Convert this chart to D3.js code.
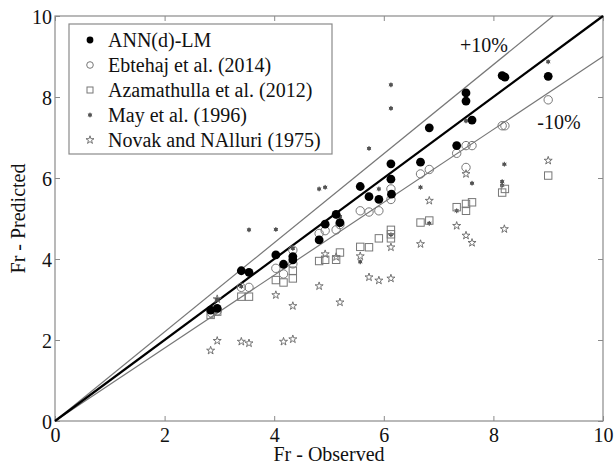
<!DOCTYPE html>
<html><head><meta charset="utf-8">
<script src="https://cdn.jsdelivr.net/npm/d3@7"></script>
<style>body{margin:0;background:#fff}svg{display:block}</style>
</head><body><svg id="c" width="614" height="466"></svg>
<script>
const seriesNames = ["ANN(d)-LM","Ebtehaj et al. (2014)","Azamathulla et al. (2012)","May et al. (1996)","Novak and NAlluri (1975)"];
const ticks = [0,2,4,6,8,10];
const annLM = [[2.84,2.74],[2.96,2.78],[3.4,3.71],[3.54,3.67],[4.03,4.10],[4.17,3.87],[4.34,4.06],[4.34,3.98],[4.82,4.47],[4.93,4.86],[5.13,5.10],[5.2,4.9],[5.57,5.79],[5.73,5.54],[5.91,5.47],[6.13,5.97],[6.13,6.35],[6.14,5.6],[6.67,6.39],[6.83,7.24],[7.33,6.8],[7.5,8.1],[7.5,7.9],[7.61,7.43],[8.16,8.53],[8.21,8.49],[9.0,8.51]];
const ebtehaj = [[2.86,2.66],[2.96,2.72],[3.4,3.3],[3.54,3.3],[4.03,3.77],[4.17,3.63],[4.34,4.22],[4.34,3.88],[4.82,4.63],[4.93,4.7],[5.13,4.72],[5.2,4.85],[5.57,5.19],[5.73,5.16],[5.91,5.19],[6.13,5.73],[6.13,5.47],[6.67,6.1],[6.83,6.21],[7.33,6.61],[7.5,6.8],[7.5,6.26],[7.61,6.8],[8.16,7.29],[8.21,7.29],[9.0,7.93]];
const azamathulla = [[2.84,2.62],[2.96,2.7],[3.4,3.07],[3.54,3.07],[4.03,3.48],[4.17,3.42],[4.34,3.71],[4.34,3.52],[4.82,3.95],[4.93,3.98],[5.13,3.98],[5.2,4.16],[5.57,4.3],[5.73,4.29],[5.91,4.51],[6.13,4.72],[6.13,4.61],[6.13,4.51],[6.67,4.9],[6.83,4.95],[7.33,5.28],[7.5,5.19],[7.5,5.36],[7.61,5.4],[8.16,5.64],[8.21,5.73],[9.0,6.06]];
const may = [[2.96,3.0],[3.4,3.32],[3.54,4.72],[4.03,4.73],[4.34,4.26],[4.82,5.73],[4.93,5.77],[5.13,5.05],[5.2,5.05],[5.57,3.93],[5.73,6.73],[5.91,5.73],[6.13,8.3],[6.13,7.72],[6.13,4.6],[6.67,5.77],[6.83,4.88],[7.33,5.19],[7.5,7.41],[7.61,5.87],[8.16,5.91],[8.16,5.82],[8.2,6.34],[9.0,8.87]];
const novak = [[2.84,1.74],[2.96,1.98],[2.96,3.01],[3.4,1.96],[3.54,1.92],[4.03,3.11],[4.17,1.96],[4.34,2.84],[4.34,2.02],[4.82,3.33],[4.93,4.12],[5.13,4.05],[5.2,2.93],[5.57,4.07],[5.73,3.55],[5.91,3.47],[6.13,4.29],[6.13,3.52],[6.67,4.37],[6.83,5.44],[7.33,4.82],[7.5,6.1],[7.5,4.58],[7.61,4.4],[8.2,4.74],[9.0,6.43]];

const FONT = "'Liberation Serif','Times New Roman',serif";
const FS = "20px";
const svg = d3.select("#c");
const L=55, R=603, T=16, B=421;
const x = d3.scaleLinear().domain([0,10]).range([L,R]);
const y = d3.scaleLinear().domain([0,10]).range([B,T]);
const frameCol = "#8a8a8a";

svg.append("rect").attr("x",L).attr("y",T).attr("width",R-L).attr("height",B-T)
  .attr("fill","none").attr("stroke",frameCol).attr("stroke-width",1.2);

const ax = svg.append("g").attr("transform",`translate(0,${B})`)
  .call(d3.axisBottom(x).tickValues(ticks).tickSizeInner(-5).tickSizeOuter(0).tickPadding(7));
const ay = svg.append("g").attr("transform",`translate(${L},0)`)
  .call(d3.axisLeft(y).tickValues(ticks).tickSizeInner(-5).tickSizeOuter(0).tickPadding(3));
const axT = svg.append("g").attr("transform",`translate(0,${T})`)
  .call(d3.axisTop(x).tickValues(ticks).tickSizeInner(-5).tickSizeOuter(0).tickFormat(""));
const ayR = svg.append("g").attr("transform",`translate(${R},0)`)
  .call(d3.axisRight(y).tickValues(ticks).tickSizeInner(-5).tickSizeOuter(0).tickFormat(""));
[ax,ay,axT,ayR].forEach(g=>{
  g.select(".domain").remove();
  g.attr("font-family",FONT);
  g.selectAll("line").attr("stroke",frameCol);
  g.selectAll("text").attr("fill","#111").style("font-size",FS).style("font-family",FONT);
});
ay.selectAll("text").attr("dy","0.35em");

const ln = d3.line().x(d=>x(d[0])).y(d=>y(d[1]));
svg.append("path").attr("d",ln([[0,0],[10/1.1,10]])).attr("stroke","#777").attr("stroke-width",1.2).attr("fill","none");
svg.append("path").attr("d",ln([[0,0],[10,9]])).attr("stroke","#777").attr("stroke-width",1.2).attr("fill","none");
svg.append("path").attr("d",ln([[0,0],[10,10]])).attr("stroke","#000").attr("stroke-width",2.2).attr("fill","none");

svg.append("text").attr("x",x(7.39)).attr("y",y(9.1)).text("+10%").style("font-size",FS).style("font-family",FONT).attr("fill","#111");
svg.append("text").attr("x",x(8.8)).attr("y",y(7.2)).text("-10%").style("font-size",FS).style("font-family",FONT).attr("fill","#111");

const star = d3.symbol().type(d3.symbolStar).size(20)();
const ast = d3.symbol().type(d3.symbolAsterisk).size(16)();
function drawMarker(g, i){
  if(i===0) g.append("circle").attr("r",4.4).attr("fill","#000");
  else if(i===1) g.append("circle").attr("r",4.2).attr("fill","none").attr("stroke","#777").attr("stroke-width",1);
  else if(i===2) g.append("rect").attr("x",-3.7).attr("y",-3.7).attr("width",7.4).attr("height",7.4).attr("fill","none").attr("stroke","#777").attr("stroke-width",1);
  else if(i===3){ g.append("circle").attr("r",1.8).attr("fill","#444"); g.append("path").attr("d",ast).attr("stroke","#555").attr("stroke-width",1).attr("fill","none"); }
  else g.append("path").attr("d",star).attr("fill","none").attr("stroke","#666").attr("stroke-width",0.9);
}
const allSeries = [annLM, ebtehaj, azamathulla, may, novak];
[4,3,2,1,0].forEach(i=>{
  svg.append("g").selectAll("g").data(allSeries[i]).join("g")
    .attr("transform",d=>`translate(${x(d[0])},${y(d[1])})`)
    .each(function(){ drawMarker(d3.select(this), i); });
});

const lg = svg.append("g");
lg.append("rect").attr("x",69).attr("y",24).attr("width",263).attr("height",130)
  .attr("fill","#fff").attr("stroke",frameCol).attr("stroke-width",1.2);
seriesNames.forEach((n,i)=>{
  const yy = 40 + i*25;
  const g = lg.append("g").attr("transform",`translate(90,${yy})`);
  if(i===0) g.append("circle").attr("r",3.4).attr("fill","#000");
  else if(i===1) g.append("circle").attr("r",3.3).attr("fill","none").attr("stroke","#777");
  else if(i===2) g.append("rect").attr("x",-3).attr("y",-3).attr("width",6).attr("height",6).attr("fill","none").attr("stroke","#777");
  else drawMarker(g,i);
  lg.append("text").attr("x",108).attr("y",yy).attr("dy","0.35em").text(n).style("font-size",FS).style("font-family",FONT).attr("fill","#111");
});

svg.append("text").attr("x",(L+R)/2).attr("y",461).attr("text-anchor","middle").text("Fr - Observed").style("font-size",FS).style("font-family",FONT).attr("fill","#111");
svg.append("text").attr("transform",`translate(25,${(T+B)/2}) rotate(-90)`).attr("text-anchor","middle").text("Fr - Predicted").style("font-size",FS).style("font-family",FONT).attr("fill","#111");
</script></body></html>
